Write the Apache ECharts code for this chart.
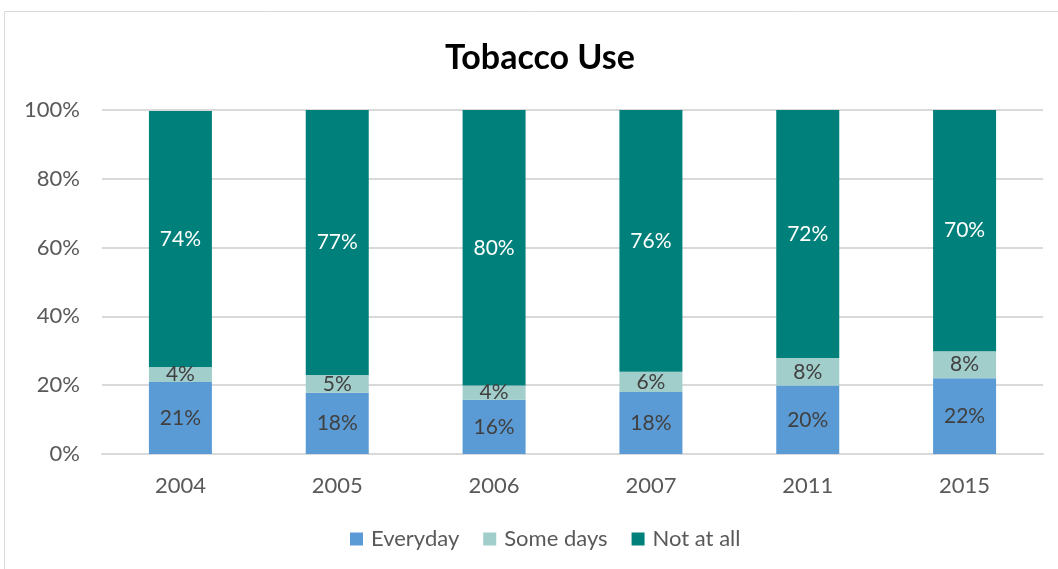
<!DOCTYPE html>
<html><head><meta charset="utf-8">
<script src="https://cdn.jsdelivr.net/npm/echarts@6/dist/echarts.min.js"></script>
<style>html,body{margin:0;padding:0;background:#fff;}#c{width:1058px;height:569px;}</style>
</head><body><div id="c"></div>
<script>
const categories = ['2004','2005','2006','2007','2011','2015'];
const everyday = [20.9, 17.8, 15.8, 18.0, 19.9, 22.0];
const someDays = [4.4, 5.2, 4.1, 5.9, 8.0, 7.9];
const notAtAll = [74.4, 77.0, 80.1, 76.1, 72.1, 70.1];
const yTicks = [0, 20, 40, 60, 80, 100];

const font = 'Lato, "Open Sans", sans-serif';
const chart = echarts.init(document.getElementById('c'));
function mk(name, data, color, labelColor) {
  return {
    name, type: 'bar', stack: 'all', data, barWidth: 63,
    itemStyle: { color },
    label: { show: true, position: 'inside', color: labelColor, fontFamily: font, fontSize: 21,
      formatter: p => Math.round(p.value) + '%' },
    emphasis: { disabled: true }
  };
}
chart.setOption({
  animation: false,
  graphic: [{ type: 'rect', shape: { x: 4.5, y: 11.5, width: 1100, height: 600 },
    style: { fill: 'none', stroke: '#d9d9d9', lineWidth: 1 }, silent: true }],
  title: { text: 'Tobacco Use', left: 440, top: 36,
    textStyle: { fontFamily: font, fontSize: 34, fontWeight: 'bold', color: '#000' } },
  legend: { bottom: 14, left: 345, itemWidth: 13, itemHeight: 13, itemGap: 24,
    icon: 'rect', textStyle: { fontFamily: font, fontSize: 22, color: '#595959', padding: [0, 0, 0, 3] },
    data: ['Everyday', 'Some days', 'Not at all'] },
  grid: { left: 102, right: 15, top: 110, bottom: 115, containLabel: false },
  xAxis: { type: 'category', data: categories,
    axisLine: { lineStyle: { color: '#d9d9d9', width: 2 } }, axisTick: { show: false },
    axisLabel: { fontFamily: font, fontSize: 22, color: '#595959', margin: 21 } },
  yAxis: { type: 'value', min: yTicks[0], max: yTicks[yTicks.length - 1], interval: 20,
    axisLine: { show: false }, axisTick: { show: false },
    splitLine: { lineStyle: { color: '#d9d9d9', width: 2 } },
    axisLabel: { fontFamily: font, fontSize: 22, color: '#595959', margin: 22, formatter: '{value}%' } },
  series: [
    mk('Everyday', everyday, '#5b9bd5', '#404040'),
    mk('Some days', someDays, '#a1cdcb', '#404040'),
    mk('Not at all', notAtAll, '#00807a', '#ffffff')
  ]
});
</script></body></html>
